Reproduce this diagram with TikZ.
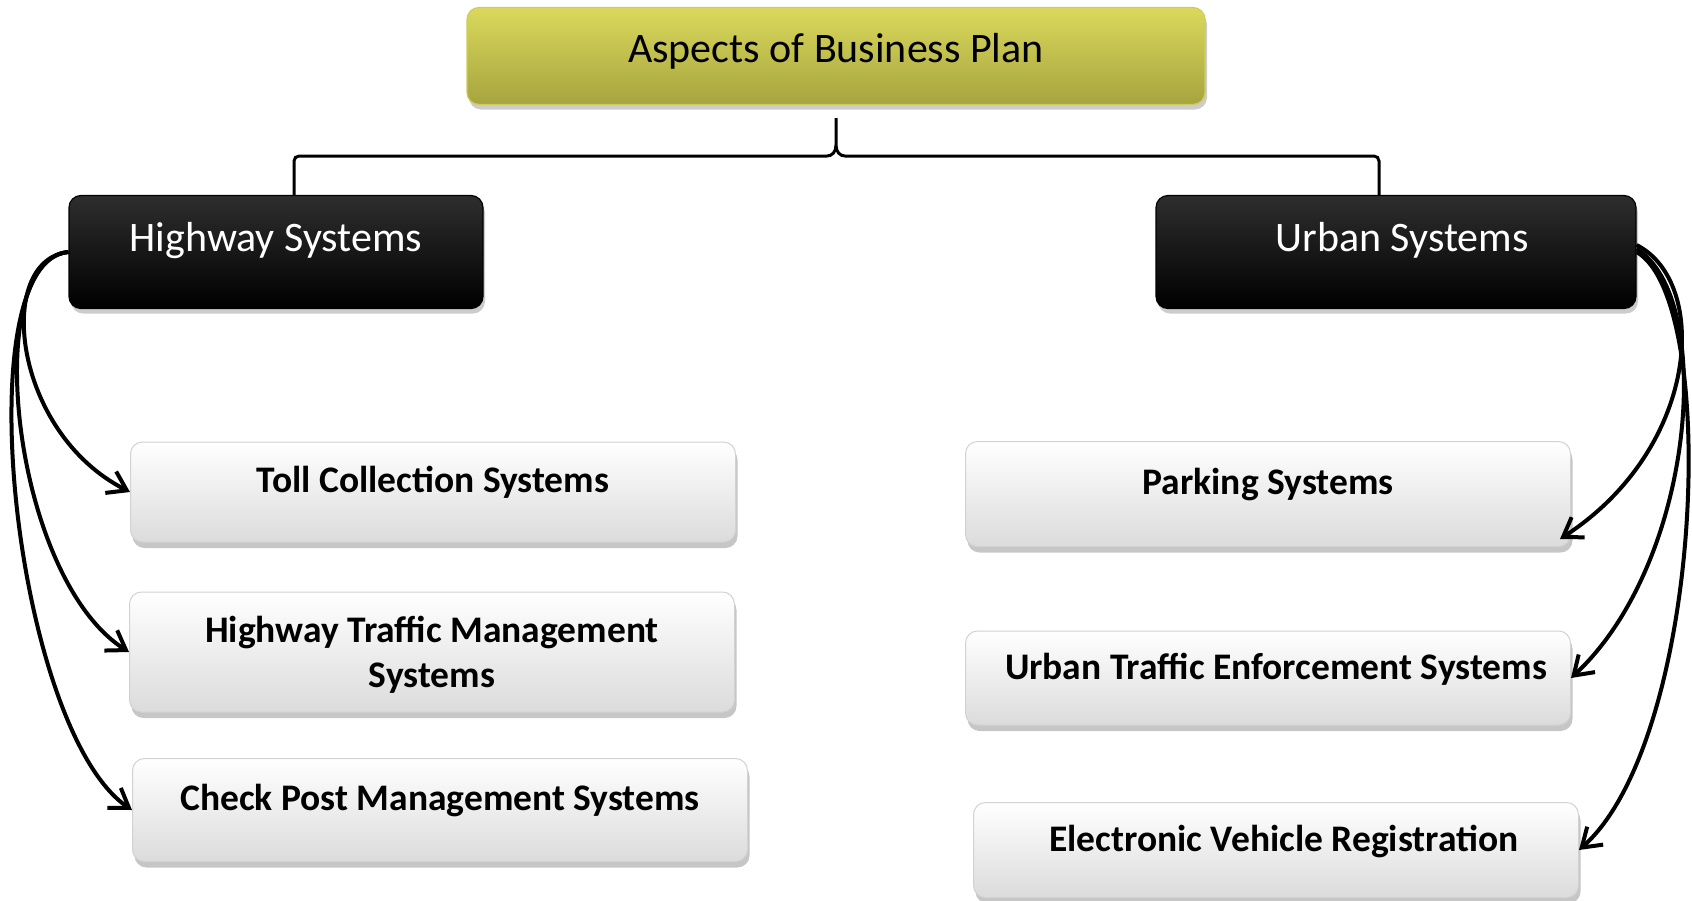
\documentclass[tikz,border=0pt]{standalone}
\usepackage{fontspec}
\setmainfont{Carlito}
\usetikzlibrary{shadows,arrows.meta}
\definecolor{olivetop}{RGB}{218,217,92}
\definecolor{olivebot}{RGB}{166,164,62}
\definecolor{oliveline}{RGB}{206,204,96}
\tikzstyle{headbox}=[draw=oliveline,line width=1.2pt,rounded corners=12pt,top color=olivetop,bottom color=olivebot,
  drop shadow={shadow xshift=2pt,shadow yshift=-5pt,opacity=.4},minimum width=738pt,minimum height=97pt,
  font=\fontsize{42}{50}\selectfont,text height=31pt,text depth=18pt]
\tikzstyle{groupbox}=[draw=black,line width=1.2pt,rounded corners=12pt,top color=black!82,bottom color=black,text=white,
  drop shadow={shadow xshift=2pt,shadow yshift=-5pt,opacity=.4},minimum height=113pt,
  font=\fontsize{42}{50}\selectfont,text height=31pt,text depth=32pt]
\tikzstyle{leafbox}=[draw=gray!35,line width=1pt,rounded corners=12pt,top color=white,bottom color=black!14,
  drop shadow={shadow xshift=2pt,shadow yshift=-6pt,opacity=.45},minimum width=605pt,
  font=\fontsize{37.5}{45}\selectfont\bfseries,align=center]

\begin{document}
\begin{tikzpicture}[x=1pt,y=-1pt]
\tikzstyle{arr}=[draw=black,line width=4pt,-{Straight Barb[length=18pt,width=24pt]}]
\useasboundingbox (0,0) rectangle (1692,900);
\node[headbox] (top) at (836,56) {Aspects of Business Plan};
\node[groupbox,minimum width=414pt] (hwy) at (276,252) {Highway Systems};
\node[groupbox,minimum width=480pt] (urb) at (1396,252) {\hspace*{12pt}Urban Systems};
\node[leafbox,minimum height=100pt,text height=27pt,text depth=27pt] (toll) at (433,492) {Toll Collection Systems};
\node[leafbox,minimum height=120pt,text depth=0pt] (htm) at (432,652) {Highway Traffic Management\\Systems};
\node[leafbox,minimum width=615pt,minimum height=103pt,text height=27pt,text depth=27pt] (chk) at (440,810) {Check Post Management Systems};
\node[leafbox,minimum height=105pt,text height=27pt,text depth=27pt] (park) at (1268,494) {Parking Systems};
\node[leafbox,minimum height=94pt,text height=27pt,text depth=24pt] (ute) at (1268,678) {\hspace*{16pt}Urban Traffic Enforcement Systems};
\node[leafbox,minimum height=95pt,text height=27pt,text depth=24pt] (evr) at (1276,850) {\hspace*{16pt}Electronic Vehicle Registration};
\coordinate (tip) at ([yshift=-10pt]top.south);
\coordinate (mid) at (836,156);
\draw[line width=3pt,rounded corners=5pt] ([xshift=18pt]hwy.north) |- ([xshift=-14pt]mid)
  .. controls ([xshift=-4pt]mid) and ([yshift=4pt]mid) .. ([yshift=16pt]mid) -- (tip)
  -- ([yshift=16pt]mid) .. controls ([yshift=4pt]mid) and ([xshift=4pt]mid) .. ([xshift=14pt]mid)
  -| ([xshift=-17pt]urb.north);
\foreach \dest/\dx/\ey in {toll/74/60,htm/89/75,chk/104/80}
  \draw[arr] (hwy.west) .. controls +(-\dx,8) and +(-118,-\ey) .. (\dest.west);
\draw[arr] ([yshift=7pt]urb.east) .. controls +(74,38) and +(139,-90) .. ([xshift=-11pt,yshift=8pt]park.south east);
\draw[arr] ([yshift=3pt]urb.east) .. controls +(79,48) and +(125,-116) .. (ute.east);
\draw[arr] (urb.east) .. controls +(84,48) and +(124,-110) .. (evr.east);
\end{tikzpicture}
\end{document}
